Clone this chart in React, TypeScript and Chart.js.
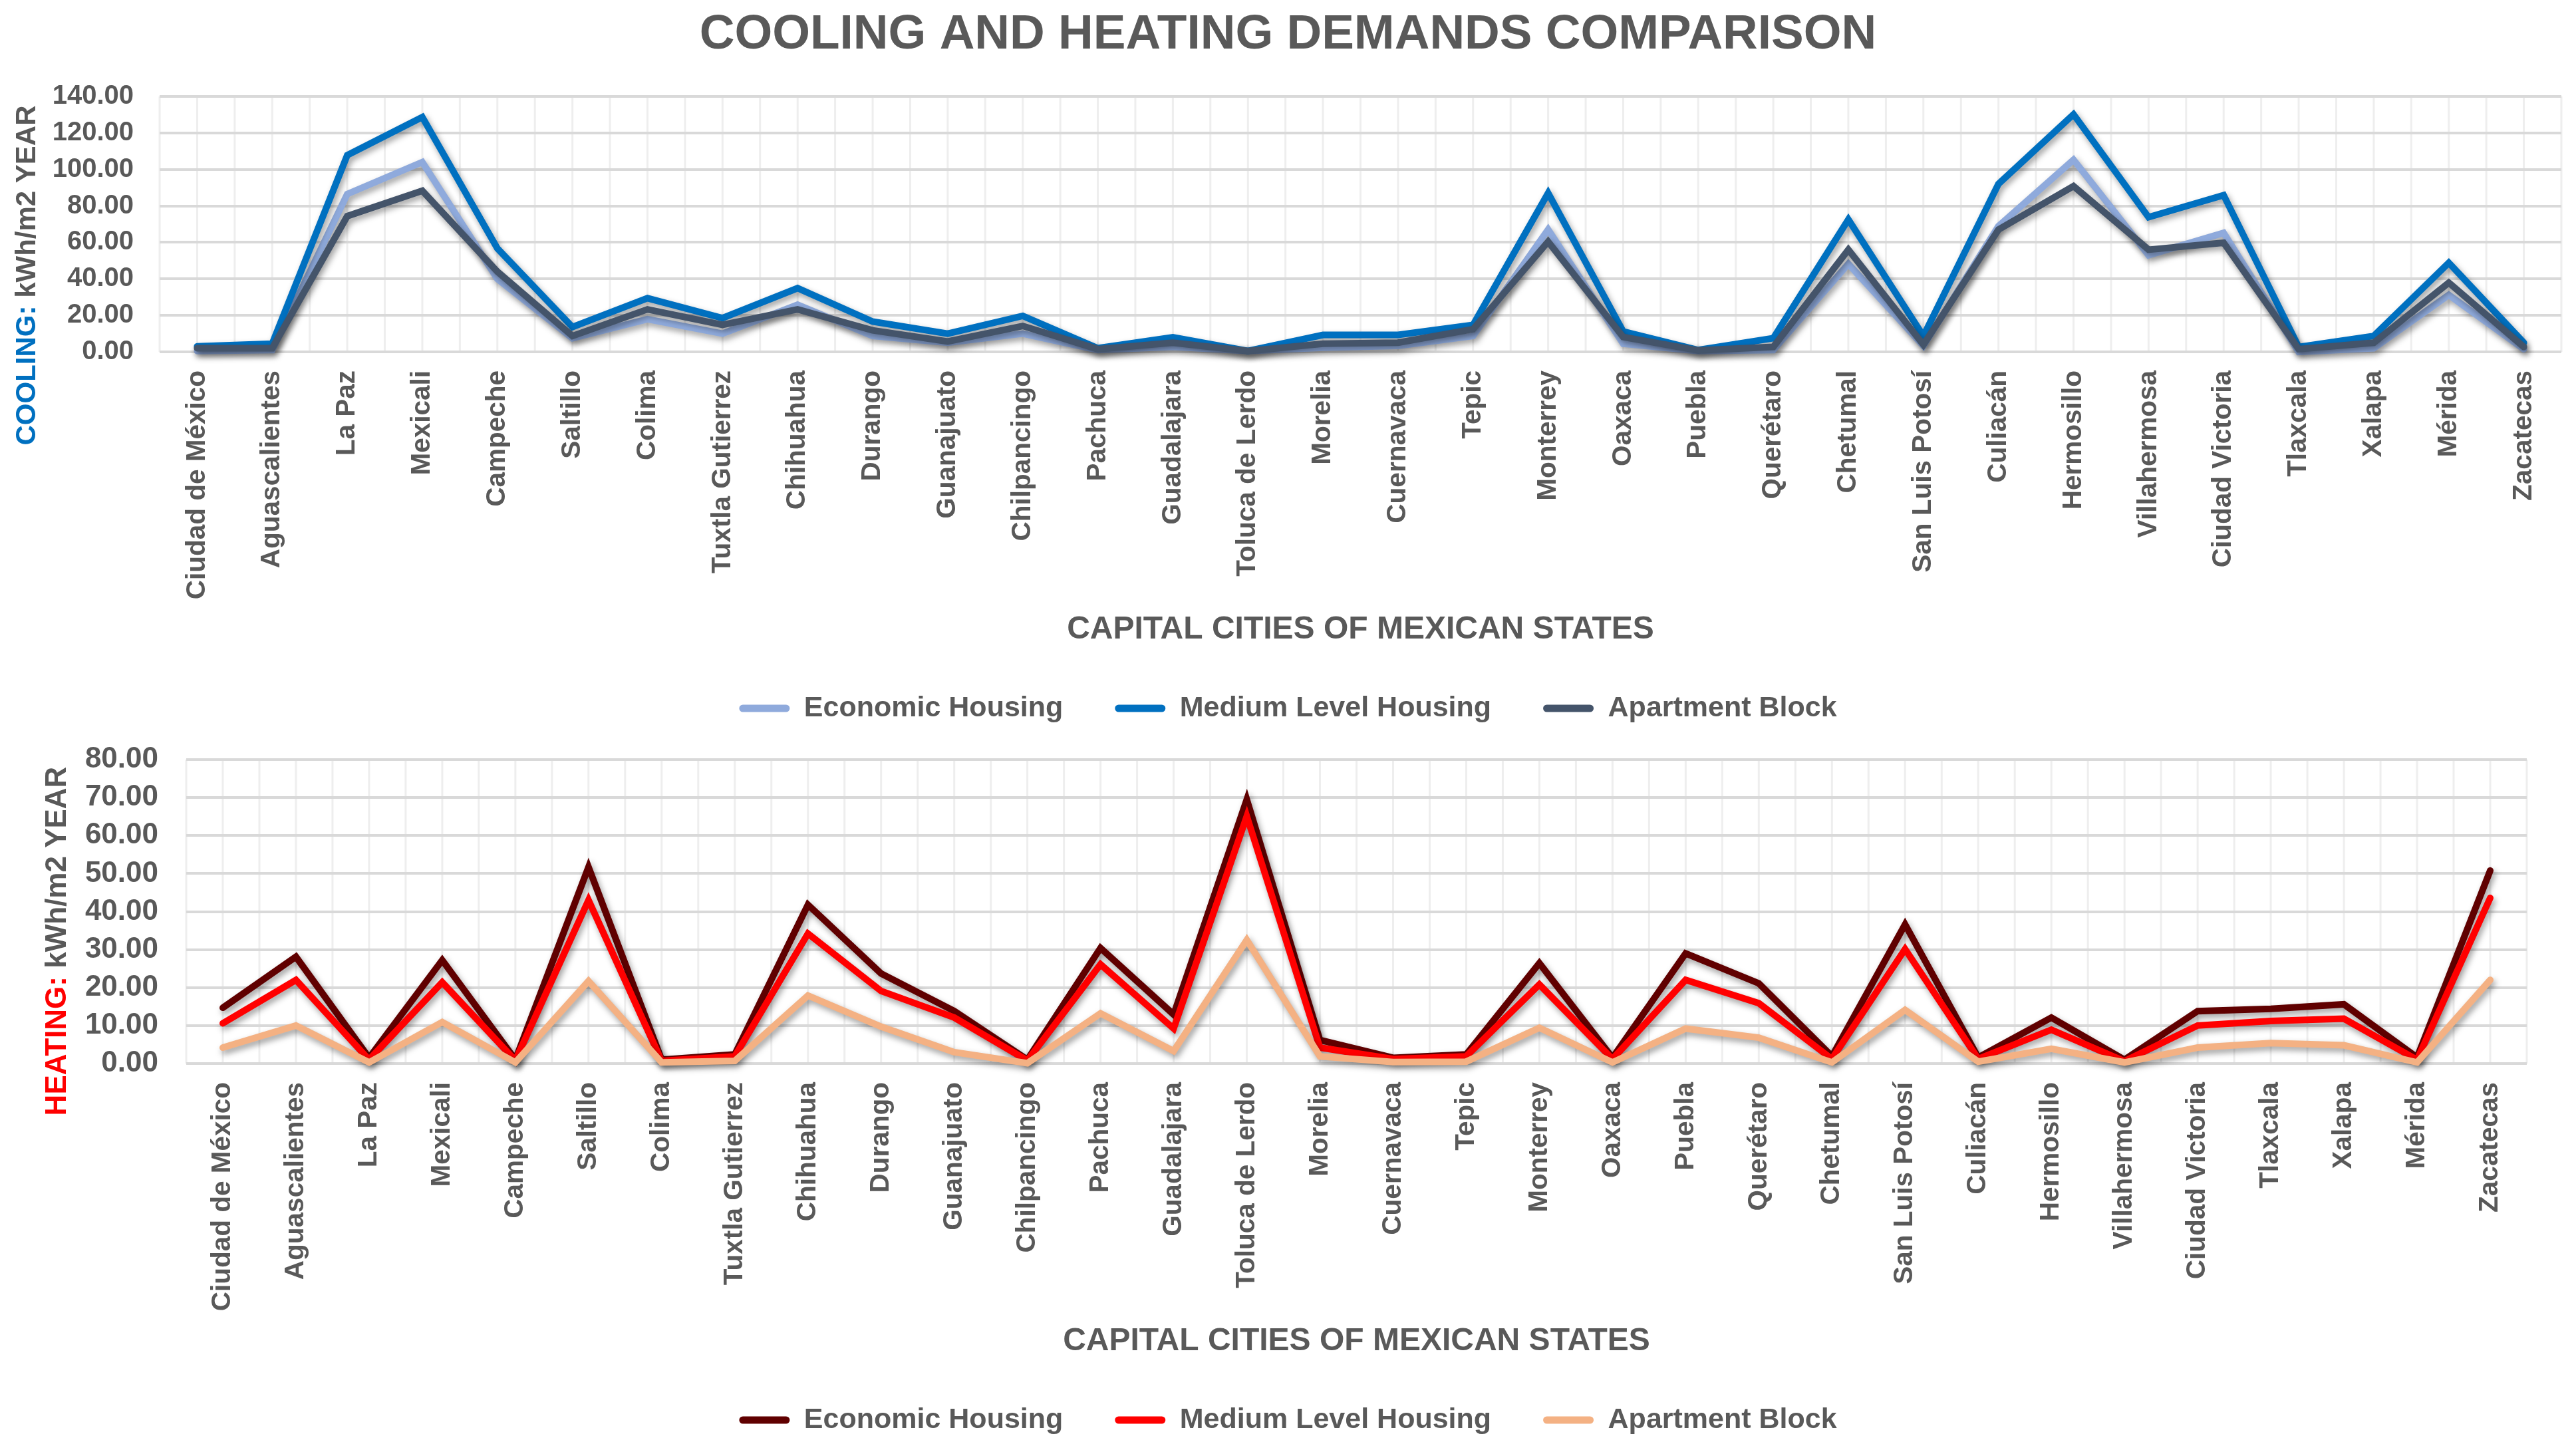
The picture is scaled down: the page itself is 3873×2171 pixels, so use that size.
import React, { useEffect, useRef } from 'react';
import { Chart, registerables } from 'chart.js';

Chart.register(...registerables);

const FONT = "'Liberation Sans', Arial, Helvetica, sans-serif";
const GRAY = '#595959';

const CITIES = [
  'Ciudad de México', 'Aguascalientes', 'La Paz', 'Mexicali', 'Campeche', 'Saltillo', 'Colima',
  'Tuxtla Gutierrez', 'Chihuahua', 'Durango', 'Guanajuato', 'Chilpancingo', 'Pachuca', 'Guadalajara',
  'Toluca de Lerdo', 'Morelia', 'Cuernavaca', 'Tepic', 'Monterrey', 'Oaxaca', 'Puebla', 'Querétaro',
  'Chetumal', 'San Luis Potosí', 'Culiacán', 'Hermosillo', 'Villahermosa', 'Ciudad Victoria',
  'Tlaxcala', 'Xalapa', 'Mérida', 'Zacatecas',
];

const SERIES_NAMES = ['Economic Housing', 'Medium Level Housing', 'Apartment Block'];

const COOL_ECONOMIC = [0.5, 1, 86.5, 104, 40, 7.5, 17.9, 10, 25.8, 8.7, 5, 10, 1, 2.7, 0.5, 2.3, 3.3, 8.7, 67, 4.5, 0.5, 1, 48.2, 3.3, 68.9, 105.3, 53, 65.2, 0, 2, 31.2, 1.5];
const COOL_MEDIUM = [3, 4.5, 107.8, 128.7, 56.7, 13.6, 29.4, 18.5, 34.9, 16.6, 10, 19.7, 2, 8, 0.5, 9.3, 9.3, 14.8, 87, 11.2, 1, 7.5, 72.5, 8.7, 92, 130.2, 73.8, 85.9, 2.7, 8.7, 48.8, 5];
const COOL_APARTMENT = [2, 2, 74.4, 88.3, 44, 8.7, 23.3, 14.8, 23.3, 11.8, 5.7, 14.2, 1.5, 5, 0.5, 4.5, 5, 12.4, 60.4, 8.1, 0.8, 2.7, 56, 3.9, 67, 90.8, 56, 59.8, 1.5, 5, 37.9, 2.7];

const HEAT_ECONOMIC = [14.7, 28.1, 1.5, 27.2, 1, 51.7, 1, 2.4, 41.8, 23.7, 13.8, 1, 30.4, 12.9, 69.5, 6.2, 1.5, 2.4, 26.4, 1.5, 29, 21.1, 1.9, 36.6, 1.6, 12.1, 1, 13.8, 14.4, 15.6, 1.6, 50.8];
const HEAT_MEDIUM = [10.6, 22, 1, 21.4, 0.8, 43, 0.7, 1.9, 34.2, 19.1, 12.1, 0.8, 26.1, 9.2, 65.1, 4.2, 1.2, 1.9, 20.8, 1.2, 22, 15.9, 1.2, 30.1, 1.2, 8.9, 0.6, 10, 11.2, 11.8, 1, 43.6];
const HEAT_APARTMENT = [4.2, 10, 0.3, 10.9, 0.3, 21.7, 0.3, 0.7, 17.9, 9.7, 3, 0.1, 13.2, 3.3, 32.5, 1.9, 0.4, 0.5, 9.4, 0.3, 9.2, 6.8, 0.3, 14.1, 0.5, 3.9, 0.3, 4.2, 5.4, 4.8, 0.3, 22];

const COOL_COLORS = ['#8FAADC', '#0070C0', '#44546A'];
const HEAT_COLORS = ['#600000', '#FF0000', '#F4B183'];

const COOL_TICK_MAX = 140;
const COOL_TICK_STEP = 20;
const HEAT_TICK_MAX = 80;
const HEAT_TICK_STEP = 10;

const vGridPlugin = {
  id: 'vgrid',
  beforeDraw(chart: any) {
    const { ctx, chartArea, scales } = chart;
    const x = scales.x;
    const n = chart.data.labels.length;
    const step = x.getPixelForValue(1) - x.getPixelForValue(0);
    ctx.save();
    ctx.strokeStyle = '#EEEEEE';
    ctx.lineWidth = 3;
    for (let k = 0; k <= n * 2; k++) {
      const px = chartArea.left + (k * step) / 2;
      ctx.beginPath();
      ctx.moveTo(px, chartArea.top);
      ctx.lineTo(px, chartArea.bottom);
      ctx.stroke();
    }
    ctx.restore();
  },
};

const shadowPlugin = {
  id: 'lineShadow',
  beforeDatasetDraw(chart: any) {
    const ctx = chart.ctx;
    ctx.save();
    ctx.shadowColor = 'rgba(0,0,0,0.38)';
    ctx.shadowBlur = 10;
    ctx.shadowOffsetX = 3;
    ctx.shadowOffsetY = 5;
  },
  afterDatasetDraw(chart: any) {
    chart.ctx.restore();
  },
};

function yTitlePlugin(parts: { text: string; color: string }[], size: number, cx: number, cy: number) {
  return {
    id: 'yTitle',
    afterDraw(chart: any) {
      const ctx = chart.ctx;
      ctx.save();
      ctx.font = `bold ${size}px ${FONT}`;
      const widths = parts.map((p) => ctx.measureText(p.text).width);
      const total = widths.reduce((a, b) => a + b, 0);
      ctx.translate(cx, cy);
      ctx.rotate(-Math.PI / 2);
      ctx.textBaseline = 'middle';
      ctx.textAlign = 'left';
      let x = -total / 2;
      parts.forEach((p, i) => {
        ctx.fillStyle = p.color;
        ctx.fillText(p.text, x, 0);
        x += widths[i];
      });
      ctx.restore();
    },
  };
}

type Cfg = {
  series: number[][];
  colors: string[];
  max: number;
  step: number;
  showTitle: boolean;
  padTop: number;
  leftW: number;
  rightW: number;
  yTickSize: number;
  yTickPad: number;
  yTitle: { text: string; color: string }[];
  yTitleSize: number;
  yTitleX: number;
  yTitleY: number;
};

function buildChart(canvas: HTMLCanvasElement, c: Cfg) {
  const datasets = c.series.map((vals, i) => ({
    label: SERIES_NAMES[i],
    data: vals,
    borderColor: c.colors[i],
    backgroundColor: c.colors[i],
    borderWidth: 10,
    pointRadius: 0,
    pointHoverRadius: 0,
    tension: 0,
    fill: false,
    borderJoinStyle: 'miter' as const,
    borderCapStyle: 'round' as const,
    clip: false as any,
    order: 3 - i,
  }));

  return new Chart(canvas, {
    type: 'line',
    data: { labels: CITIES, datasets },
    options: {
      responsive: false,
      animation: false,
      devicePixelRatio: 1,
      events: [],
      layout: { padding: { top: c.padTop, bottom: 3.5, left: 0, right: 0 } },
      plugins: {
        title: c.showTitle
          ? {
              display: true,
              text: 'COOLING AND HEATING DEMANDS COMPARISON',
              color: GRAY,
              font: { family: FONT, size: 73, weight: 'bold' },
              padding: { top: 9, bottom: 48.4 },
            }
          : { display: false },
        legend: {
          display: true,
          position: 'bottom',
          labels: {
            boxWidth: 76,
            boxHeight: 11,
            useBorderRadius: true,
            borderRadius: 5.5,
            padding: 78,
            color: GRAY,
            font: { family: FONT, size: 43, weight: 'bold' },
            generateLabels: (chart: any) =>
              chart.data.datasets.map((ds: any, i: number) => ({
                text: ds.label,
                fillStyle: ds.borderColor,
                strokeStyle: ds.borderColor,
                lineWidth: 0,
                hidden: false,
                datasetIndex: i,
                borderRadius: 5.5,
                fontColor: GRAY,
              })),
          },
        },
        tooltip: { enabled: false },
      },
      scales: {
        x: {
          type: 'category',
          offset: true,
          grid: { display: false, drawTicks: false },
          border: { display: false },
          ticks: {
            autoSkip: false,
            minRotation: 90,
            maxRotation: 90,
            padding: 28,
            color: GRAY,
            font: { family: FONT, size: 40.5, weight: 'bold' },
          },
          title: {
            display: true,
            text: 'CAPITAL CITIES OF MEXICAN STATES',
            color: GRAY,
            font: { family: FONT, size: 48, weight: 'bold' },
            padding: { top: 0, bottom: -9.7 },
          },
          afterFit: (s: any) => {
            s.height = 436.5;
          },
        },
        y: {
          type: 'linear',
          position: 'left',
          min: 0,
          max: c.max,
          grid: { color: '#D9D9D9', lineWidth: 4, drawTicks: false },
          border: { display: false },
          ticks: {
            stepSize: c.step,
            padding: c.yTickPad,
            color: GRAY,
            font: { family: FONT, size: c.yTickSize, weight: 'bold' },
            callback: (v: any) => Number(v).toFixed(2),
          },
          afterFit: (s: any) => {
            s.width = c.leftW;
          },
        },
        yR: {
          type: 'linear',
          position: 'right',
          display: true,
          grid: { display: false, drawTicks: false },
          border: { display: false },
          ticks: { display: false },
          afterFit: (s: any) => {
            s.width = c.rightW;
          },
        },
      },
    } as any,
    plugins: [vGridPlugin, shadowPlugin, yTitlePlugin(c.yTitle, c.yTitleSize, c.yTitleX, c.yTitleY)],
  });
}

export default function App() {
  const topRef = useRef<HTMLCanvasElement | null>(null);
  const botRef = useRef<HTMLCanvasElement | null>(null);

  useEffect(() => {
    Chart.defaults.font.family = FONT;
    const top = buildChart(topRef.current!, {
      series: [COOL_ECONOMIC, COOL_MEDIUM, COOL_APARTMENT],
      colors: COOL_COLORS,
      max: COOL_TICK_MAX,
      step: COOL_TICK_STEP,
      showTitle: true,
      padTop: 0,
      leftW: 240,
      rightW: 22,
      yTickSize: 40,
      yTickPad: 39,
      yTitle: [
        { text: 'COOLING:', color: '#0070C0' },
        { text: ' kWh/m2 YEAR', color: GRAY },
      ],
      yTitleSize: 42,
      yTitleX: 41,
      yTitleY: 414,
    });
    const bot = buildChart(botRef.current!, {
      series: [HEAT_ECONOMIC, HEAT_MEDIUM, HEAT_APARTMENT],
      colors: HEAT_COLORS,
      max: HEAT_TICK_MAX,
      step: HEAT_TICK_STEP,
      showTitle: false,
      padTop: 72,
      leftW: 280,
      rightW: 74,
      yTickSize: 44,
      yTickPad: 42,
      yTitle: [
        { text: 'HEATING:', color: '#FF0000' },
        { text: ' kWh/m2 YEAR', color: GRAY },
      ],
      yTitleSize: 44,
      yTitleX: 87,
      yTitleY: 345,
    });
    return () => {
      top.destroy();
      bot.destroy();
    };
  }, []);

  return (
    <div
      style={{
        position: 'absolute',
        left: 0,
        top: 0,
        width: 3873,
        height: 2171,
        overflow: 'hidden',
        background: '#ffffff',
      }}
    >
      <canvas
        ref={topRef}
        width={3873}
        height={1100}
        style={{ position: 'absolute', left: 0, top: 0, width: 3873, height: 1100, display: 'block' }}
      />
      <canvas
        ref={botRef}
        width={3873}
        height={1100}
        style={{ position: 'absolute', left: 0, top: 1070, width: 3873, height: 1100, display: 'block' }}
      />
    </div>
  );
}
